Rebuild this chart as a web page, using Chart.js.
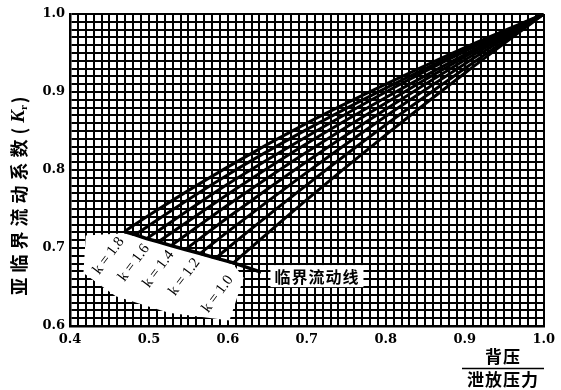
<!DOCTYPE html>
<html>
<head>
<meta charset="utf-8">
<script src="https://cdn.jsdelivr.net/npm/chart.js@4"></script>
<style>
  html, body { margin: 0; padding: 0; background: #fff; }
</style>
</head>
<body>
<canvas id="chart" width="561" height="390"></canvas>
<script>
// pressure ratio (back pressure / relief pressure) and flow coefficient, one pair per k
const RATIO_K10 = [0.607, 0.7, 0.8, 0.9, 1.0];
const KB_K10    = [0.681, 0.762, 0.845, 0.924, 1.0];
const RATIO_K11 = [0.585, 0.6, 0.7, 0.8, 0.9, 1.0];
const KB_K11    = [0.687, 0.700, 0.781, 0.858, 0.930, 1.0];
const RATIO_K12 = [0.565, 0.6, 0.7, 0.8, 0.9, 1.0];
const KB_K12    = [0.693, 0.721, 0.797, 0.869, 0.936, 1.0];
const RATIO_K13 = [0.546, 0.6, 0.7, 0.8, 0.9, 1.0];
const KB_K13    = [0.698, 0.739, 0.811, 0.878, 0.941, 1.0];
const RATIO_K14 = [0.528, 0.6, 0.7, 0.8, 0.9, 1.0];
const KB_K14    = [0.703, 0.755, 0.823, 0.886, 0.945, 1.0];
const RATIO_K15 = [0.512, 0.6, 0.7, 0.8, 0.9, 1.0];
const KB_K15    = [0.708, 0.769, 0.834, 0.893, 0.948, 1.0];
const RATIO_K16 = [0.497, 0.6, 0.7, 0.8, 0.9, 1.0];
const KB_K16    = [0.712, 0.782, 0.843, 0.900, 0.952, 1.0];
const RATIO_K17 = [0.483, 0.5, 0.6, 0.7, 0.8, 0.9, 1.0];
const KB_K17    = [0.717, 0.729, 0.794, 0.852, 0.905, 0.954, 1.0];
const RATIO_K18 = [0.469, 0.5, 0.6, 0.7, 0.8, 0.9, 1.0];
const KB_K18    = [0.721, 0.742, 0.804, 0.860, 0.910, 0.957, 1.0];

// critical flow line, last point is the pointer towards its label
const CRIT_RATIO = [0.469, 0.483, 0.497, 0.512, 0.528, 0.546, 0.565, 0.585, 0.607, 0.642];
const CRIT_KB    = [0.721, 0.717, 0.712, 0.708, 0.703, 0.698, 0.693, 0.687, 0.681, 0.669];

const K_NAMES = ['1.0', '1.1', '1.2', '1.3', '1.4', '1.5', '1.6', '1.7', '1.8'];
const LABELLED_K = ['1.0', '1.2', '1.4', '1.6', '1.8'];

const X_TITLE_TOP = '背压';
const X_TITLE_BOTTOM = '泄放压力';
const Y_TITLE = '亚临界流动系数(';
const CRIT_LABEL = '临界流动线';

const curves = [
  [RATIO_K10, KB_K10], [RATIO_K11, KB_K11], [RATIO_K12, KB_K12],
  [RATIO_K13, KB_K13], [RATIO_K14, KB_K14], [RATIO_K15, KB_K15],
  [RATIO_K16, KB_K16], [RATIO_K17, KB_K17], [RATIO_K18, KB_K18],
];

const toPoints = (xs, ys) => xs.map((v, i) => ({ x: v, y: ys[i] }));

const datasets = curves.map(([xs, ys], i) => ({
  label: 'k=' + K_NAMES[i],
  data: toPoints(xs, ys),
  showLine: true,
  borderColor: '#000',
  borderWidth: 3,
  pointRadius: 0,
  cubicInterpolationMode: 'monotone',
}));
datasets.push({
  label: CRIT_LABEL,
  data: toPoints(CRIT_RATIO, CRIT_KB),
  showLine: true,
  borderColor: '#000',
  borderWidth: 3.5,
  pointRadius: 0,
  tension: 0,
});

const tickLabel = v => {
  const n = Math.round(v * 100);
  return n % 10 === 0 ? (n / 100).toFixed(1) : '';
};

const tickFont = { family: 'DejaVu Serif', size: 13, weight: 'bold' };
const CJK = '"Noto Sans CJK SC"';

// paper-style decorations: blanked area for the k labels, texts, fraction title
const decor = {
  id: 'decor',
  beforeDatasetsDraw(chart) {
    const { ctx, scales: { x, y } } = chart;
    const patch = [[0.420, 0.716], [0.469, 0.719], [0.607, 0.679], [0.620, 0.662],
                   [0.602, 0.607], [0.525, 0.617], [0.458, 0.638], [0.417, 0.668]];
    ctx.save();
    ctx.fillStyle = '#fff';
    ctx.beginPath();
    patch.forEach(([a, b], i) => {
      const px = x.getPixelForValue(a), py = y.getPixelForValue(b);
      i ? ctx.lineTo(px, py) : ctx.moveTo(px, py);
    });
    ctx.closePath();
    ctx.fill();
    ctx.restore();
  },
  afterDatasetsDraw(chart) {
    const { ctx, scales: { x, y } } = chart;
    // k labels, rotated along the curves' feet
    const spots = { '1.8': [0.449, 0.690], '1.6': [0.481, 0.681], '1.4': [0.512, 0.673],
                    '1.2': [0.545, 0.663], '1.0': [0.587, 0.641] };
    ctx.save();
    ctx.fillStyle = '#000';
    ctx.font = '15px "Liberation Serif"';
    ctx.textAlign = 'center';
    ctx.textBaseline = 'middle';
    LABELLED_K.forEach(k => {
      const [a, b] = spots[k];
      ctx.save();
      ctx.translate(x.getPixelForValue(a), y.getPixelForValue(b));
      ctx.rotate(-0.93);
      ctx.fillText('k = ' + k, 0, 0);
      ctx.restore();
    });

    // critical flow line label
    const lx = x.getPixelForValue(0.659), ly = y.getPixelForValue(0.664);
    ctx.font = `bold 16px ${CJK}`;
    ctx.letterSpacing = '1px';
    const w = ctx.measureText(CRIT_LABEL).width;
    ctx.fillStyle = '#fff';
    ctx.fillRect(lx - 4, ly - 11, w + 8, 22);
    ctx.fillStyle = '#000';
    ctx.textAlign = 'left';
    ctx.fillText(CRIT_LABEL, lx, ly + 1);
    ctx.restore();
  },
  afterDraw(chart) {
    const { ctx } = chart;
    ctx.save();
    ctx.fillStyle = '#000';
    ctx.strokeStyle = '#000';

    // x title as a fraction
    const cx = 503;
    ctx.font = `bold 17px ${CJK}`;
    ctx.letterSpacing = '1px';
    ctx.textAlign = 'center';
    ctx.textBaseline = 'middle';
    ctx.fillText(X_TITLE_TOP, cx, 357);
    ctx.fillText(X_TITLE_BOTTOM, cx, 380);
    ctx.lineWidth = 1.5;
    ctx.beginPath();
    ctx.moveTo(462, 368.5);
    ctx.lineTo(544, 368.5);
    ctx.stroke();

    // y title, rotated, with K subscript r
    ctx.translate(19, 196);
    ctx.rotate(-Math.PI / 2);
    ctx.textAlign = 'left';
    ctx.textBaseline = 'middle';
    ctx.font = `bold 18px ${CJK}`;
    ctx.letterSpacing = '5px';
    const w1 = ctx.measureText(Y_TITLE).width;
    ctx.font = 'italic bold 19px "Liberation Serif"';
    ctx.letterSpacing = '0px';
    const wK = ctx.measureText('K').width;
    ctx.font = 'bold 11px "Liberation Serif"';
    const wr = ctx.measureText('r').width + 2;
    ctx.font = `bold 18px ${CJK}`;
    const wp = ctx.measureText(')').width;
    let pos = -(w1 + wK + wr + wp) / 2;
    ctx.letterSpacing = '5px';
    ctx.fillText(Y_TITLE, pos, 0);
    pos += w1;
    ctx.letterSpacing = '0px';
    ctx.font = 'italic bold 19px "Liberation Serif"';
    ctx.fillText('K', pos, 0);
    pos += wK;
    ctx.font = 'bold 11px "Liberation Serif"';
    ctx.fillText('r', pos, 5);
    pos += wr;
    ctx.font = `bold 18px ${CJK}`;
    ctx.fillText(')', pos, 0);
    ctx.restore();
  },
};

new Chart(document.getElementById('chart'), {
  type: 'scatter',
  data: { datasets },
  options: {
    responsive: false,
    animation: false,
    devicePixelRatio: 1,
    layout: { padding: { top: 14, right: 11, left: 0, bottom: 0 } },
    plugins: { legend: { display: false }, tooltip: { enabled: false } },
    scales: {
      x: {
        type: 'linear', min: 0.4, max: 1.0,
        ticks: { stepSize: 0.01, autoSkip: false, maxRotation: 0, callback: tickLabel,
                 color: '#000', font: tickFont, padding: 6 },
        grid: { color: '#000', lineWidth: 2, drawTicks: false },
        border: { color: '#000', width: 2.5 },
        afterFit: s => { s.height = 64; },
      },
      y: {
        type: 'linear', min: 0.6, max: 1.0,
        ticks: { stepSize: 0.01, autoSkip: false, callback: tickLabel,
                 color: '#000', font: tickFont, padding: 5 },
        grid: { color: '#000', lineWidth: 2, drawTicks: false },
        border: { color: '#000', width: 2.5 },
        afterFit: s => { s.width = 70; },
      },
    },
  },
  plugins: [decor],
});
</script>
</body>
</html>
